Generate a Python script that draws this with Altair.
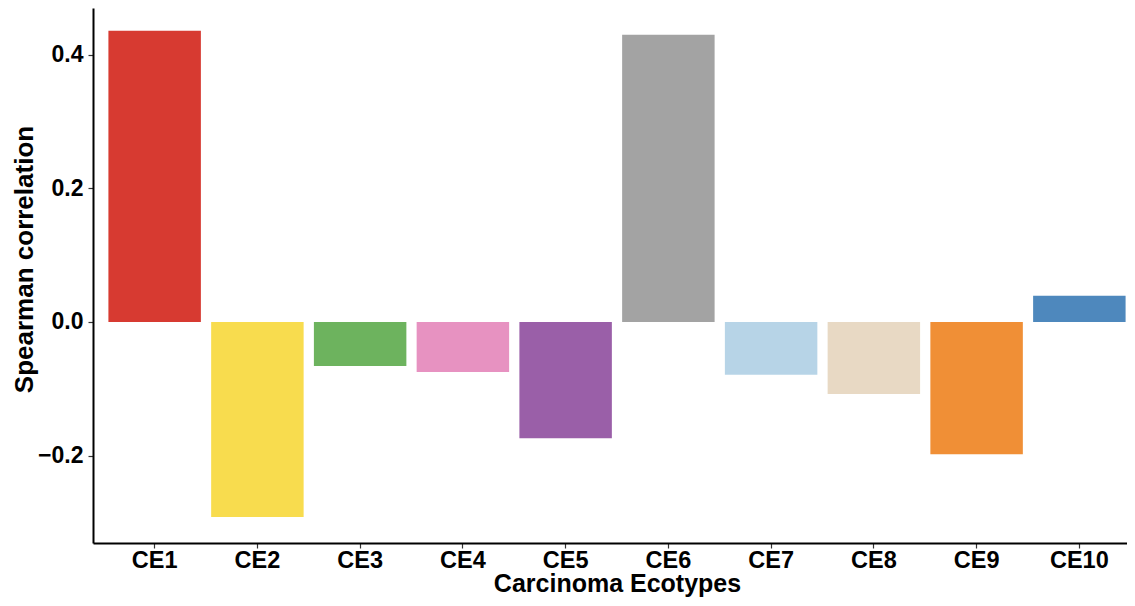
import altair as alt
import pandas as pd

ecotypes = ["CE1", "CE2", "CE3", "CE4", "CE5", "CE6", "CE7", "CE8", "CE9", "CE10"]
correlations = [0.436, -0.292, -0.066, -0.075, -0.174, 0.430, -0.079, -0.108, -0.198, 0.039]
colors = ["#D73A31", "#F8DC4E", "#6DB35E", "#E792C1", "#9A5FA8",
          "#A3A3A3", "#B7D4E7", "#E8D9C4", "#F08F36", "#4E88BD"]

df = pd.DataFrame({"ecotype": ecotypes, "rho": correlations})

FONT = "Liberation Sans"

chart = alt.Chart(df).mark_bar().encode(
    x=alt.X("ecotype:N", sort=ecotypes,
            scale=alt.Scale(paddingInner=0.1, paddingOuter=0.15, range=[0, 1048]),
            axis=alt.Axis(title="Carcinoma Ecotypes", labelAngle=0,
                          labelFont=FONT, labelFontSize=23.5, labelFontWeight="bold",
                          labelColor="black", labelBaseline="alphabetic", labelPadding=19,
                          titleFont=FONT, titleFontSize=25, titleFontWeight="bold",
                          titleColor="black", titleBaseline="alphabetic", titleY=48,
                          domainColor="black", domainWidth=2,
                          tickColor="#333333", tickSize=5, tickWidth=1.2, grid=False)),
    y=alt.Y("rho:Q",
            scale=alt.Scale(domain=[-0.331, 0.470], nice=False, zero=False),
            axis=alt.Axis(title="Spearman correlation", values=[-0.2, 0.0, 0.2, 0.4],
                          format=".1f",
                          labelFont=FONT, labelFontSize=23, labelFontWeight="bold",
                          labelColor="black", labelPadding=5,
                          titleFont=FONT, titleFontSize=26, titleFontWeight="bold",
                          titleColor="black", titleX=-56, titleY=251,
                          titleBaseline="bottom", titleAngle=-90,
                          domainColor="black", domainWidth=2,
                          tickColor="#333333", tickSize=5, tickWidth=1.2, grid=False)),
    color=alt.Color("ecotype:N", sort=ecotypes,
                    scale=alt.Scale(domain=ecotypes, range=colors), legend=None),
).properties(
    width=1034, height=535,
    autosize=alt.AutoSizeParams(type="none"),
    padding={"left": 85, "top": 0, "right": 0, "bottom": 55},
).configure(background="white").configure_view(strokeWidth=0, stroke="transparent")

chart.save("out.html", embed_options={"renderer": "svg", "actions": False})
